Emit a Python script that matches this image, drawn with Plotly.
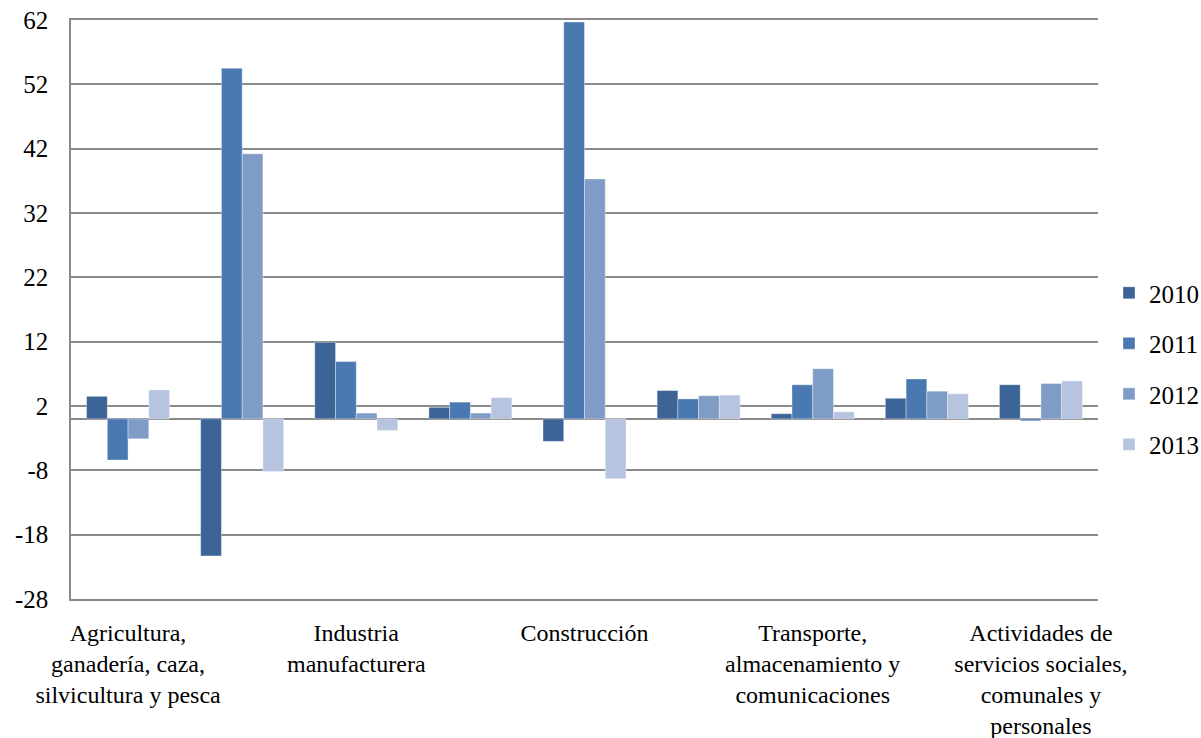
import plotly.graph_objects as go

categories = [
    "Agricultura, ganadería, caza, silvicultura y pesca",
    "Explotación de minas y canteras",
    "Industria manufacturera",
    "Electricidad, gas y agua",
    "Construcción",
    "Comercio, restaurantes y hoteles",
    "Transporte, almacenamiento y comunicaciones",
    "Establecimientos financieros, seguros y servicios a empresas",
    "Actividades de servicios sociales, comunales y personales",
]
shown_ticks = [categories[0], categories[2], categories[4], categories[6], categories[8]]
shown_text = [
    "Agricultura,<br>ganadería, caza,<br>silvicultura y pesca",
    "Industria<br>manufacturera",
    "Construcción",
    "Transporte,<br>almacenamiento y<br>comunicaciones",
    "Actividades de<br>servicios sociales,<br>comunales y<br>personales",
]

years = ["2010", "2011", "2012", "2013"]
v2010 = [3.5, -21.3, 11.9, 1.8, -3.5, 4.4, 0.8, 3.2, 5.3]
v2011 = [-6.4, 54.5, 8.9, 2.6, 61.7, 3.1, 5.3, 6.2, -0.3]
v2012 = [-3.1, 41.2, 0.9, 0.9, 37.3, 3.6, 7.8, 4.3, 5.5]
v2013 = [4.5, -8.2, -1.8, 3.3, -9.3, 3.7, 1.1, 3.9, 5.9]
series = [v2010, v2011, v2012, v2013]
colors = ["#3C6496", "#4A79B2", "#7F9CC7", "#B6C4DF"]

y_ticks = [-28, -18, -8, 2, 12, 22, 32, 42, 52, 62]
y_ticktext = ["-28", "-18", "-8", "2", "12", "22", "32", "42", "52", "62"]

fig = go.Figure()
for name, vals, col in zip(years, series, colors):
    fig.add_trace(go.Bar(
        x=categories, y=vals, name=name, legendgroup=name,
        marker=dict(color=col, line=dict(width=0.6, color="rgba(255,255,255,0.6)")),
    ))

font = "Liberation Serif"
W, H = 1201, 738
L, R_plot, T, B = 71, 1098, 20, 138.5
dom_right = (R_plot - L) / (W - L)
grid_col = "#8A8A8A"

fig.update_layout(
    width=W, height=H,
    margin=dict(l=L, r=0, t=T, b=B, autoexpand=False),
    paper_bgcolor="white", plot_bgcolor="white",
    barmode="group", bargap=0.2727, bargroupgap=0,
    font=dict(family=font, size=25, color="black"),
    showlegend=True,
    legend=dict(x=(1109 - L) / (W - L), y=0.398, xanchor="left", yanchor="middle",
                font=dict(family=font, size=25, color="black"),
                tracegroupgap=15, itemwidth=30, bgcolor="rgba(0,0,0,0)"),
    xaxis=dict(
        domain=[0, dom_right], automargin=False,
        tickmode="array", tickvals=shown_ticks, ticktext=shown_text,
        showgrid=False, showline=True, mirror=True, linecolor=grid_col, linewidth=1.5,
        ticks="outside", ticklen=11, tickcolor="rgba(0,0,0,0)",
        tickfont=dict(family=font, size=24, color="black"),
    ),
    yaxis=dict(
        range=[-28, 62], tickmode="array", tickvals=y_ticks, ticktext=y_ticktext,
        automargin=False,
        showgrid=True, gridcolor=grid_col, gridwidth=1.5,
        zeroline=True, zerolinecolor=grid_col, zerolinewidth=1.5,
        showline=True, linecolor=grid_col, linewidth=1.5,
        ticks="", ticklabelstandoff=16,
        tickfont=dict(family=font, size=25, color="black"),
    ),
)

fig.write_html(
    "out.html",
    config={"displayModeBar": False},
    post_script="document.body.style.margin='0';document.body.style.padding='0';document.body.style.overflow='hidden';",
)
